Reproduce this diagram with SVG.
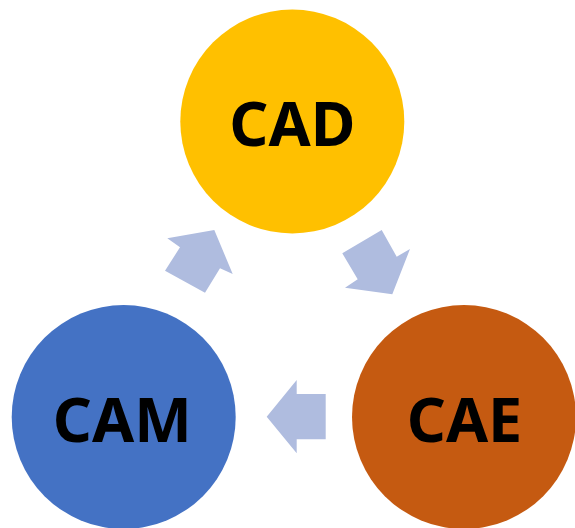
<svg xmlns="http://www.w3.org/2000/svg" width="575" height="528" viewBox="0 0 575 528">
<style>
.lbl{font-family:"Noto Sans","DejaVu Sans",sans-serif;font-weight:bold;font-size:61px;fill:#000;text-anchor:middle}
.arr{fill:#AFBCDF}
</style>
<rect width="575" height="528" fill="#fff"/>
<g id="connectors">
<polygon class="arr" points="214.3,230 232.7,274 220,268.3 205,292.7 165,270.7 180,247.3 167.3,238.3"/>
<polygon class="arr" points="381.7,230 396.7,256.7 410,249 392.3,294.3 345,287.7 357.7,279.3 342.3,253.3"/>
<polygon class="arr" points="266.7,416.7 296.7,380 296.7,394 325.7,394 325.7,439.3 296.7,439.3 296.7,453.3"/>
</g>
<g id="cad">
<circle cx="292.3" cy="121.5" r="112" fill="#FFC000"/>
<text class="lbl" x="292.3" y="146">CAD</text>
</g>
<g id="cam">
<circle cx="123.7" cy="417" r="112" fill="#4472C4"/>
<text class="lbl" x="122.3" y="441.7">CAM</text>
</g>
<g id="cae">
<circle cx="464" cy="417" r="112" fill="#C55A11"/>
<text class="lbl" x="464.5" y="441.7">CAE</text>
</g>
</svg>
